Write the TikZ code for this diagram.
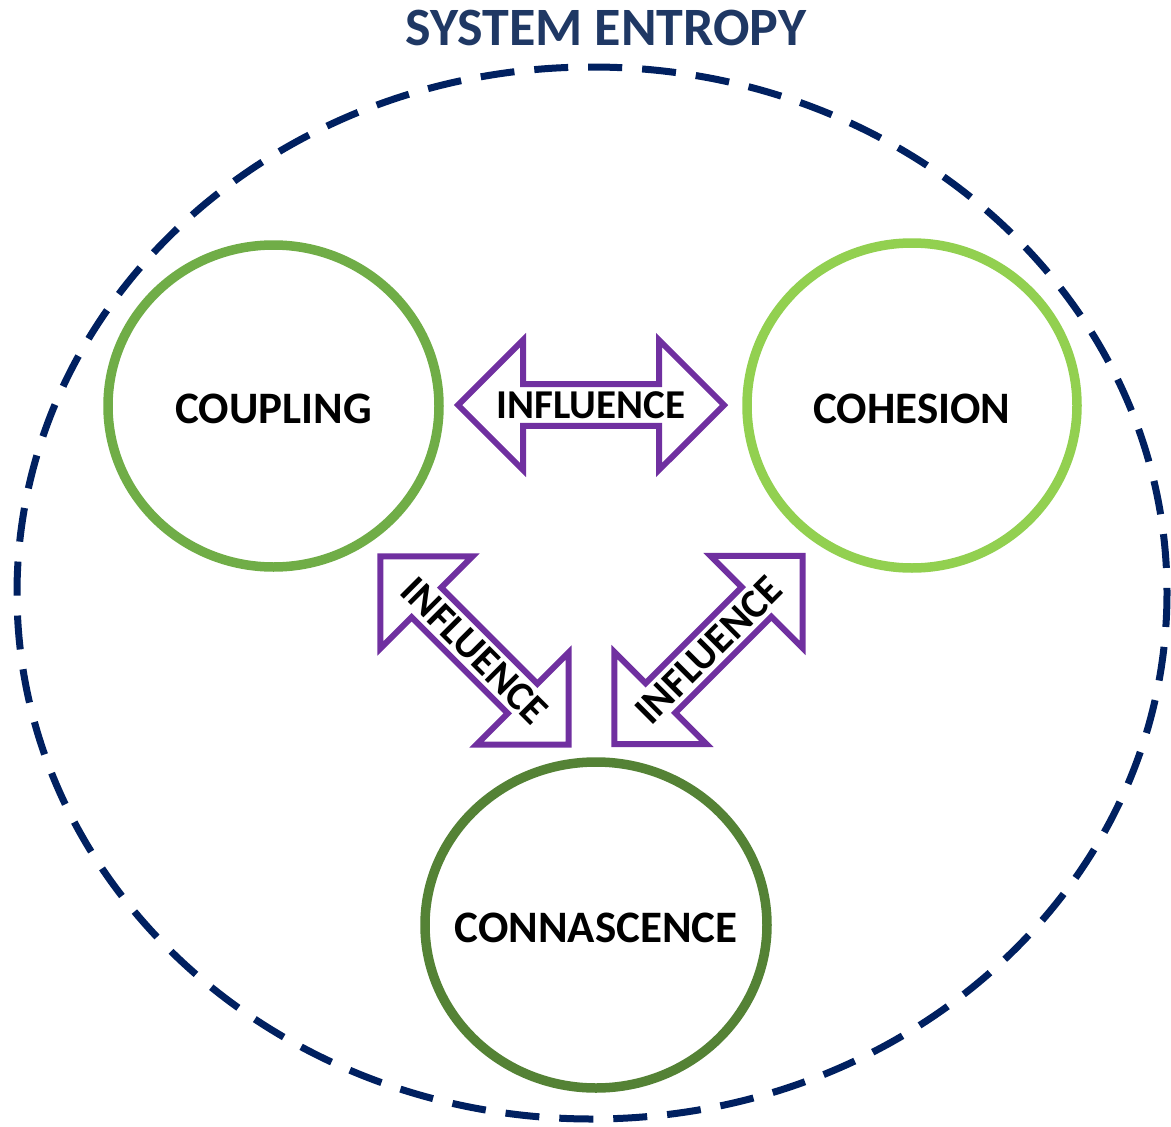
\documentclass[tikz,border=0pt]{standalone}
\usepackage{fontspec}
\setmainfont{Carlito}
\usetikzlibrary{shapes.geometric,shapes.arrows}

\definecolor{entropyblue}{HTML}{002060}
\definecolor{titleblue}{HTML}{1F3864}
\definecolor{couplinggreen}{HTML}{70AD47}
\definecolor{cohesiongreen}{HTML}{92D050}
\definecolor{connagreen}{HTML}{548235}
\definecolor{influencepurple}{HTML}{7030A0}

\tikzset{
  ring/.style      = {draw, ellipse, line width=9.5pt, inner sep=0pt,
                      label={[tag]center:#1}},
  tag/.style       = {font=\fontsize{45}{54}\selectfont\bfseries, inner sep=0pt,
                      yshift=-3pt},
  influence/.style = {draw=influencepurple, double arrow, line width=6pt,
                      double arrow tip angle=90, double arrow head extend=35pt,
                      minimum height=266pt, minimum width=130pt, inner sep=0pt,
                      font=\fontsize{41}{49}\selectfont\bfseries}
}

\begin{document}
\begin{tikzpicture}[x=1pt, y=-1pt]
\useasboundingbox (0,0) rectangle (1171,1127);

% boundary of the system
\draw[entropyblue, line width=7pt, dash pattern=on 34pt off 20pt]
  (592,593) ellipse [x radius=575, y radius=526];
\node[titleblue, font=\fontsize{54}{64}\selectfont\bfseries, inner sep=0pt]
  (title) at (606,28) {SYSTEM ENTROPY};

% the three properties
\node[ring=COUPLING, couplinggreen, minimum width=331pt, minimum height=322pt]
  (coupling) at (273.5,406) {};
\node[ring=COHESION, cohesiongreen, minimum width=330pt, minimum height=325pt]
  (cohesion) at (912,405.5) {};
\node[ring=CONNASCENCE, connagreen, minimum width=342pt, minimum height=326pt]
  (connascence) at (596,925) {};

% influences between them
\node[influence] (coupcoh) at (591,405) {INFLUENCE};
\node[influence, rotate=-45] (coupconn) at (474.5,650.5) {INFLUENCE};
\node[influence, rotate=45] (cohconn) at (708.5,650) {INFLUENCE};
\end{tikzpicture}
\end{document}
